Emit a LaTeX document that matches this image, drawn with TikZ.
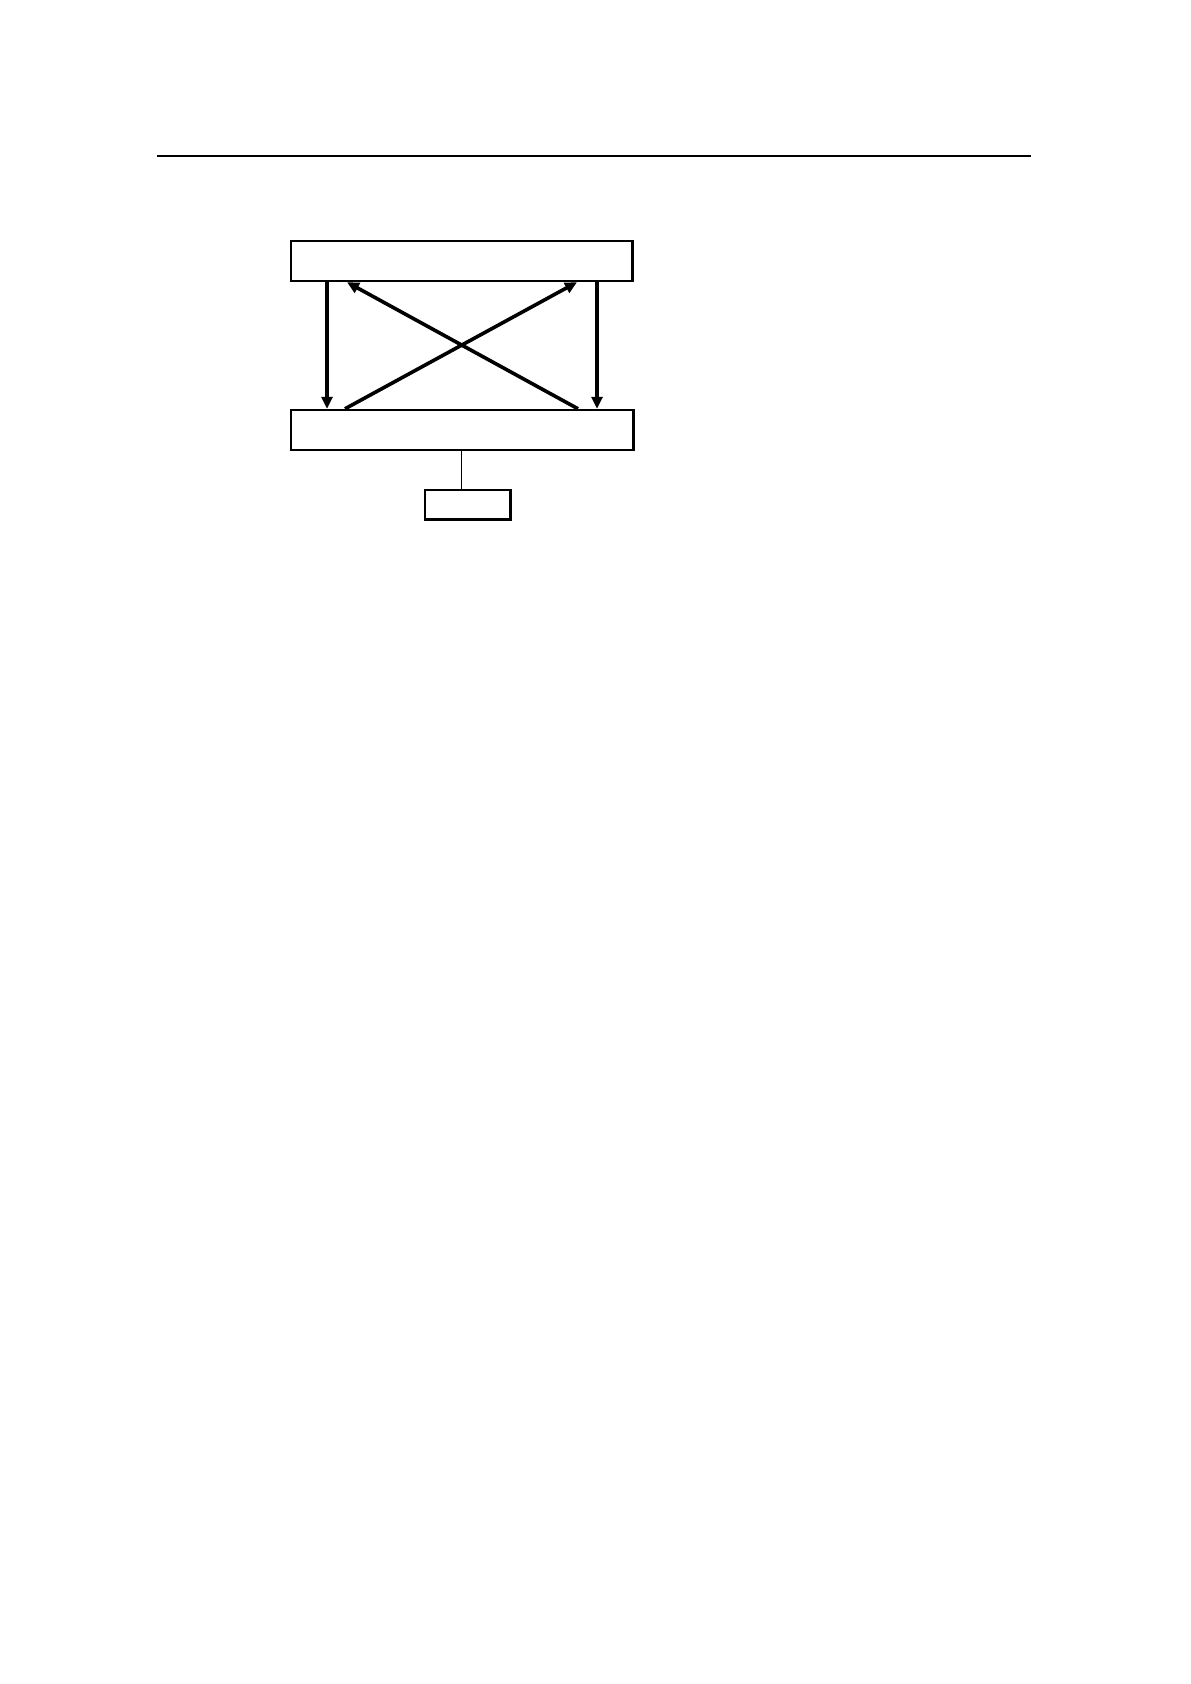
\documentclass[tikz,border=0pt]{standalone}
\usetikzlibrary{arrows.meta}
\begin{document}
\begin{tikzpicture}[x=0.5pt,y=-0.5pt,
  box/.style={draw,line width=1.2pt,rectangle,inner sep=0pt},
  arr/.style={line width=1.8pt,-{Triangle[length=6pt,width=5.5pt]}},
  link/.style={line width=0.9pt}]
\useasboundingbox (0,0) rectangle (1190,1684);
\coordinate (ruleL) at (157,156);
\coordinate (ruleR) at (1031,156);
\draw[line width=1.4pt] (ruleL) -- (ruleR);
\node[box,minimum width=170.8pt,minimum height=20pt] (top) at (461.5,261) {};
\node[box,minimum width=171.3pt,minimum height=20pt] (bot) at (462,430) {};
\node[box,minimum width=42.8pt,minimum height=14.8pt] (small) at (467.5,504.5) {};
\draw[arr] (327,0 |- top.south) -- (327,0 |- bot.north);
\draw[arr] (597,0 |- top.south) -- (597,0 |- bot.north);
\draw[arr] (345,0 |- bot.north) -- (577,0 |- top.south);
\draw[arr] (578,0 |- bot.north) -- (347,0 |- top.south);
\draw[link] (461.5,0 |- bot.south) -- (461.5,0 |- small.north);
\end{tikzpicture}
\end{document}
